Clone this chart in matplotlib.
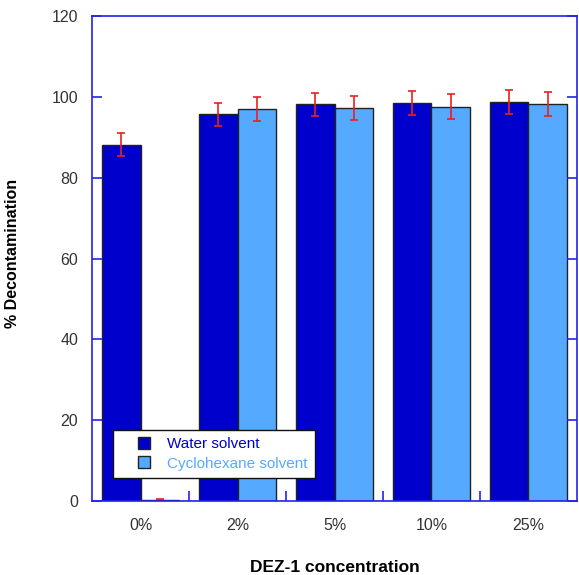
import matplotlib
matplotlib.use("Agg")
import matplotlib.pyplot as plt
from matplotlib.patches import Rectangle
from matplotlib.container import BarContainer
from matplotlib.legend_handler import HandlerPatch
import numpy as np

plt.rcParams['font.family'] = ['Liberation Sans', 'DejaVu Sans']

categories = ["0%", "2%", "5%", "10%", "25%"]
water = [88.2, 95.7, 98.2, 98.5, 98.7]
water_err = [2.8, 2.9, 2.8, 2.9, 2.9]
cyclohexane = [0.3, 97.0, 97.3, 97.6, 98.2]
cyclohexane_err = [0.1, 3.0, 3.0, 3.1, 2.9]
yticks = [0, 20, 40, 60, 80, 100, 120]

water_color = "#0000CC"
cyclo_color = "#55AAFF"
axis_color = "#2222EE"

fig = plt.figure(figsize=(5.79, 5.75), dpi=100)
ax = fig.add_axes([0.159, 0.1287, 0.8375, 0.8433])

x = np.arange(len(categories))
w = 0.4
err_kw = dict(ecolor="#E82020", elinewidth=1.2, capsize=2.6, capthick=1.2)
ax.bar(x - w / 2, water, w, yerr=water_err, color=water_color,
       edgecolor="#222222", linewidth=1.0, error_kw=err_kw, label="Water solvent")
ax.bar(x + w / 2, cyclohexane, w, yerr=cyclohexane_err, color=cyclo_color,
       edgecolor="#222222", linewidth=1.0, error_kw=err_kw, label="Cyclohexane solvent")

ax.set_xlim(-0.5, len(categories) - 0.5)
ax.set_ylim(0, 120)
ax.set_yticks(yticks)
ax.set_xticks(x)
ax.set_xticklabels(categories)
ax.set_xticks(np.arange(0.5, len(categories) - 0.5, 1), minor=True)

for s in ax.spines.values():
    s.set_color(axis_color)
    s.set_linewidth(1.2)

ax.tick_params(axis="x", which="major", length=0, pad=12.5, labelsize=11.5, labelcolor="#333333")
ax.tick_params(axis="x", which="minor", direction="in", length=7, color=axis_color, width=1.2)
ax.tick_params(axis="y", direction="in", length=7, color=axis_color, width=1.2,
               right=True, pad=10, labelsize=11.5, labelcolor="#333333")

ax.set_xlabel("DEZ-1 concentration", fontsize=12.5, fontweight="bold")
ax.xaxis.set_label_coords(0.5, -0.138)
ax.xaxis.label.set_va("center")
ax.set_ylabel("% Decontamination", fontsize=11.5, fontweight="bold")
ax.yaxis.set_label_coords(-0.165, 0.51)
ax.yaxis.label.set_va("center")


def small_square(legend, orig_handle, xdescent, ydescent, width, height, fontsize):
    s = 0.78 * fontsize
    return Rectangle((width - xdescent - s, -ydescent + (height - s) / 2), s, s)


def copy_bar_style(legend_handle, orig_handle):
    legend_handle.update_from(orig_handle[0])


leg = ax.legend(loc="lower left", bbox_to_anchor=(0.043, 0.047), borderaxespad=0,
                fancybox=False, edgecolor="#111111", framealpha=1, fontsize=11,
                handlelength=1.9, handletextpad=1.15, borderpad=0.5, labelspacing=0.35,
                handler_map={BarContainer: HandlerPatch(patch_func=small_square,
                                                        update_func=copy_bar_style)})
leg.get_frame().set_linewidth(1.0)
for t, c in zip(leg.get_texts(), [water_color, cyclo_color]):
    t.set_color(c)

fig.savefig("out.png", dpi=100)
